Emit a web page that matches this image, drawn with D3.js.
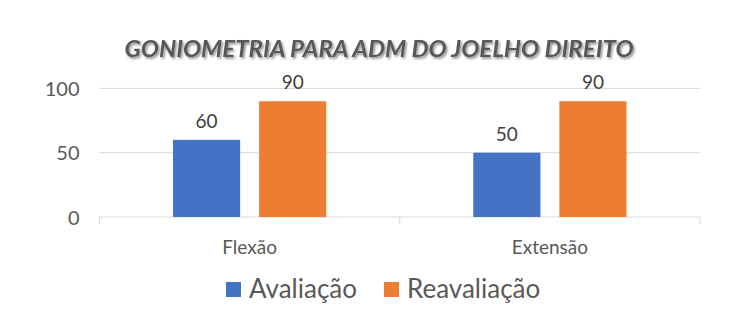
<!DOCTYPE html>
<html><head><meta charset="utf-8">
<script src="https://cdn.jsdelivr.net/npm/d3@7"></script>
<style>
html,body{margin:0;padding:0;background:#fff;}
svg{display:block;font-family:Lato,"Liberation Sans",sans-serif;}
</style></head>
<body><svg id="c" width="739" height="336"></svg>
<script>
const title = "GONIOMETRIA PARA ADM DO JOELHO DIREITO";
const categories = ["Flexão", "Extensão"];
const seriesNames = ["Avaliação", "Reavaliação"];
const avaliacao = [60, 50];
const reavaliacao = [90, 90];
const yTicks = [0, 50, 100];
const colors = ["#4472C4", "#ED7D31"];

const svg = d3.select("#c");
const defs = svg.append("defs");
const f = defs.append("filter").attr("id","sh").attr("x","-5%").attr("y","-30%").attr("width","110%").attr("height","160%");
f.append("feDropShadow").attr("dx",1.5).attr("dy",1.8).attr("stdDeviation",1.2).attr("flood-color","#000").attr("flood-opacity",0.45);

const pLeft = 99.5, pRight = 700, pTop = 88.4, pBottom = 217;
const x0 = d3.scaleBand().domain(categories).range([pLeft, pRight]);
const x1 = d3.scaleBand().domain(seriesNames).range([0, x0.bandwidth()]).paddingInner(0.22).paddingOuter(0.854);
const y = d3.scaleLinear().domain([0, 100]).range([pBottom, pTop]);

// gridlines
svg.append("g").selectAll("line").data(yTicks.filter(d=>d>0)).join("line")
  .attr("x1", pLeft).attr("x2", pRight).attr("y1", d=>y(d)).attr("y2", d=>y(d))
  .attr("stroke","#d9d9d9").attr("stroke-width",1);

// y axis labels
const ya = svg.append("g").attr("transform",`translate(${pLeft},0)`)
  .call(d3.axisLeft(y).tickValues(yTicks).tickSize(0).tickPadding(20));
ya.select(".domain").remove();
ya.selectAll("text").attr("font-size",20).attr("fill","#595959").attr("font-family","Lato,sans-serif").attr("dy","0.36em");

// x axis
const xa = svg.append("g").attr("transform",`translate(0,${pBottom})`)
  .call(d3.axisBottom(x0).tickSize(0).tickPadding(24));
xa.select(".domain").attr("stroke","#d9d9d9").attr("d",`M${pLeft},0H${pRight}`);
xa.selectAll("text").attr("font-size",19).attr("fill","#595959").attr("font-family","Lato,sans-serif");
const bounds = categories.map(c=>x0(c)).concat([pRight]);
xa.append("g").selectAll("line").data(bounds).join("line")
  .attr("x1",d=>d).attr("x2",d=>d).attr("y1",0).attr("y2",7).attr("stroke","#d9d9d9");

// bars
const data = categories.map((c,i)=>({cat:c, vals:[avaliacao[i], reavaliacao[i]]}));
const g = svg.append("g");
data.forEach(d=>{
  d.vals.forEach((v,j)=>{
    const bx = x0(d.cat) + x1(seriesNames[j]);
    g.append("rect").attr("x",bx).attr("y",y(v)).attr("width",x1.bandwidth()).attr("height",y(0)-y(v)).attr("fill",colors[j]);
    g.append("text").attr("x",bx + x1.bandwidth()/2).attr("y",y(v)-12).attr("text-anchor","middle")
      .attr("font-size",19).attr("fill","#404040").text(v);
  });
});

// title
svg.append("text").attr("x",379).attr("y",57).attr("text-anchor","middle")
  .attr("font-size",22).attr("font-weight","bold").attr("font-style","italic")
  .attr("fill","#595959").attr("filter","url(#sh)")
  .attr("textLength",509).attr("lengthAdjust","spacingAndGlyphs").text(title);

// legend
const legX = [226, 384];
const lg = svg.append("g");
seriesNames.forEach((s,i)=>{
  lg.append("rect").attr("x",legX[i]).attr("y",282).attr("width",15).attr("height",15).attr("fill",colors[i]);
  lg.append("text").attr("x",legX[i]+23).attr("y",297.5).attr("font-size",26).attr("fill","#595959").text(s);
});
</script></body></html>
